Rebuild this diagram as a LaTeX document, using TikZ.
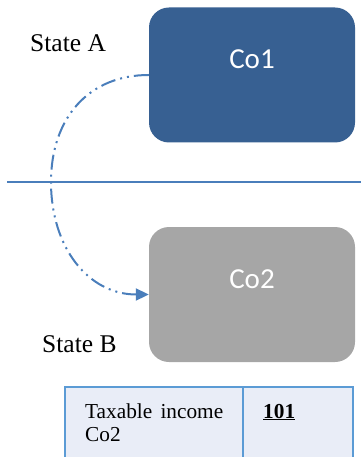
\documentclass[tikz,border=0pt]{standalone}
\usepackage{fontspec}
\setmainfont{Liberation Serif}
\newfontfamily\boxfont{Carlito}
\usetikzlibrary{arrows.meta}
\definecolor{cobluedark}{HTML}{376092}
\definecolor{cogrey}{HTML}{A6A6A6}
\definecolor{linkblue}{HTML}{4A7EBB}
\definecolor{tabborder}{HTML}{5B9BD5}
\definecolor{tabfill}{HTML}{E9EDF7}
\tikzset{
  cobox/.style={rounded corners=20pt, minimum width=206pt, minimum height=135pt, inner sep=0pt, draw=none},
  cotext/.style={text=white, font=\boxfont\fontsize{29}{34}\selectfont, anchor=base, inner sep=0pt},
  statelabel/.style={font=\fontsize{25.5}{30}\selectfont, anchor=base west, inner sep=0pt},
  tabtext/.style={font=\fontsize{21.3}{24}\selectfont, anchor=base west, inner sep=0pt},
  flow/.style={draw=linkblue, line width=2pt, dash pattern=on 15pt off 5pt on 2pt off 5pt on 2pt off 5pt, -{Triangle[length=13pt,width=12pt]}},
  divider/.style={draw=linkblue, line width=1.5pt},
  tabline/.style={draw=tabborder, line width=2pt}
}
\begin{document}
\begin{tikzpicture}[x=1pt,y=-1pt]
\useasboundingbox (0,0) rectangle (361,457);
% boxes
\node[cobox, fill=cobluedark] (co1) at (252,75) {};
\node[cotext] (co1t) at (252,69) {Co1};
\node[cobox, fill=cogrey] (co2) at (252,294.5) {};
\node[cotext] (co2t) at (252,288) {Co2};
% state labels
\node[statelabel] (sa) at (30,52) {State A};
\node[statelabel] (sb) at (42,352) {State B};
% divider line
\coordinate (hl) at (7,182);
\coordinate (hr) at (361,182);
\draw[divider] (hl) -- (hr);
% flow curve
\coordinate (mid) at (51,182);
\draw[flow] (co1.west) .. controls +(-60,0) and +(0,-64) .. (mid)
  .. controls +(0,66) and +(-60,0) .. (co2.west);
% table
\fill[tabfill] (65,387) rectangle (353,457);
\draw[tabline] (65,457) -- (65,387) -- (353,387) -- (353,457);
\draw[tabline] (243,387) -- (243,457);
\node[tabtext] (tx1) at (85,418) {\makebox[138pt][s]{Taxable income}};
\node[tabtext] (tx2) at (85,441.7) {Co2};
\node[tabtext] (val) at (263,418) {\underline{\textbf{101}}};
\end{tikzpicture}
\end{document}
